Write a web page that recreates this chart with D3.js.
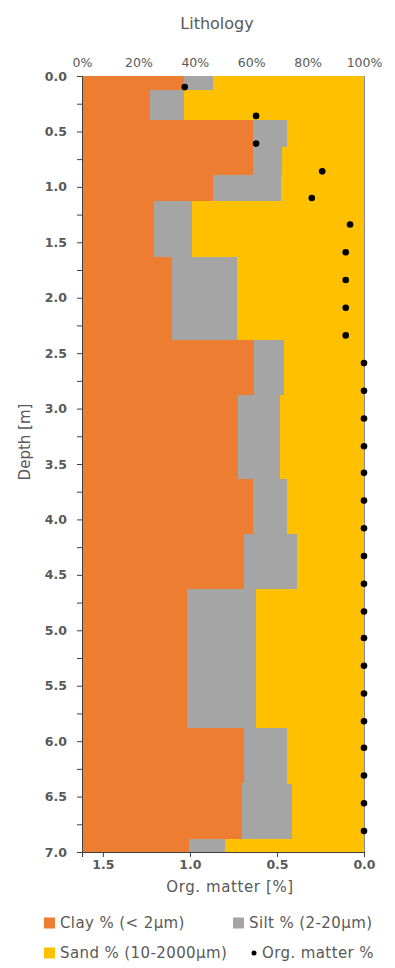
<!DOCTYPE html>
<html>
<head>
<meta charset="utf-8">
<script src="https://cdn.jsdelivr.net/npm/d3@7"></script>
<style>
  body { margin: 0; background: #fff; }
  svg text { font-family: "DejaVu Sans", Verdana, sans-serif; fill: #595959; }
</style>
</head>
<body>
<svg id="chart" width="395" height="968"></svg>
<script>
// layer boundaries (depth, m)
var depthBreaks = [0, 0.13, 0.39, 0.64, 0.89, 1.13, 1.63, 2.38, 2.88, 3.63, 4.13, 4.63, 5.88, 6.38, 6.88, 7.0];
// grain size fractions per layer (%)
var clay = [36.2, 24.1, 60.7, 60.7, 46.6, 25.5, 32.0, 61.0, 55.2, 60.7, 57.3, 37.3, 57.4, 56.6, 37.8];
var silt = [10.4, 12.2, 11.9, 10.3, 24.1, 13.4, 23.1, 10.7, 15.0, 11.9, 18.9, 24.4, 15.2, 17.9, 12.9];
var sand = [53.4, 63.7, 27.4, 29.0, 29.3, 61.1, 44.9, 28.3, 29.8, 27.4, 23.8, 38.3, 27.4, 25.5, 49.3];
// organic matter samples
var omDepth = [0.1, 0.36, 0.61, 0.86, 1.1, 1.34, 1.59, 1.84, 2.09, 2.34, 2.59, 2.84, 3.09, 3.34, 3.58,
               3.83, 4.08, 4.33, 4.58, 4.83, 5.07, 5.32, 5.57, 5.82, 6.06, 6.31, 6.56, 6.81];
var omValue = [1.03, 0.62, 0.62, 0.24, 0.30, 0.08, 0.105, 0.105, 0.105, 0.105, 0, 0, 0, 0, 0,
               0, 0, 0, 0, 0, 0, 0, 0, 0, 0, 0, 0, 0];
var pctTicks = [0, 20, 40, 60, 80, 100];
var omTicks = [1.5, 1.0, 0.5, 0.0];
var depthTicks = [0, 0.5, 1, 1.5, 2, 2.5, 3, 3.5, 4, 4.5, 5, 5.5, 6, 6.5, 7];

var colors = { clay: "#ED7D31", silt: "#A5A5A5", sand: "#FFC000" };

var svg = d3.select("#chart");

var x = d3.scaleLinear().domain([0, 100]).range([82, 364]);
var xOm = d3.scaleLinear().domain([1.62, 0]).range([82, 364]);
var y = d3.scaleLinear().domain([0, 7]).range([76, 852]);

var layers = clay.map(function(c, i) {
  return { top: depthBreaks[i], bottom: depthBreaks[i + 1], clay: c, silt: silt[i], sand: sand[i] };
});

var stack = d3.stack().keys(["clay", "silt", "sand"]);
var series = stack(layers);

var g = svg.append("g");
series.forEach(function(s) {
  g.selectAll(".r-" + s.key)
    .data(s)
    .enter().append("rect")
    .attr("x", function(d) { return x(d[0]); })
    .attr("width", function(d) { return x(d[1]) - x(d[0]); })
    .attr("y", function(d) { return y(d.data.top); })
    .attr("height", function(d) { return y(d.data.bottom) - y(d.data.top) + 0.5; })
    .attr("fill", colors[s.key])
    .attr("shape-rendering", "crispEdges");
});

// right border line
svg.append("line")
  .attr("x1", 364.5).attr("x2", 364.5)
  .attr("y1", y(0)).attr("y2", y(7))
  .attr("stroke", "#8c8c8c").attr("stroke-width", 1);

// org matter points
svg.selectAll(".om")
  .data(omDepth)
  .enter().append("circle")
  .attr("cx", function(d, i) { return xOm(omValue[i]); })
  .attr("cy", function(d) { return y(d); })
  .attr("r", 3.3)
  .attr("fill", "#000");

// left depth axis
var yAxis = d3.axisLeft(y)
  .tickValues(d3.range(0, 7.01, 0.25))
  .tickSize(5)
  .tickFormat(function(d) { return depthTicks.indexOf(d) >= 0 ? d3.format(".1f")(d) : ""; });
var ya = svg.append("g").attr("transform", "translate(82,0)").call(yAxis);
ya.select(".domain").attr("stroke", "#404040");
ya.selectAll(".tick line").attr("stroke", "#404040");
ya.selectAll("text").attr("font-size", 12.5).attr("font-weight", "bold").attr("fill", "#595959").attr("x", -15);

// top percent axis (labels only)
var xTop = d3.axisTop(x).tickValues(pctTicks).tickSize(0).tickFormat(function(d) { return d + "%"; });
var xt = svg.append("g").attr("transform", "translate(0,63)").call(xTop);
xt.select(".domain").remove();
xt.selectAll("text").attr("font-size", 12.5).attr("fill", "#404040").attr("dy", "0.35em").attr("y", 0);

// bottom org matter axis
var xBot = d3.axisBottom(xOm).tickValues(omTicks).tickSize(5).tickFormat(d3.format(".1f"));
var xb = svg.append("g").attr("transform", "translate(0,852)").call(xBot);
xb.select(".domain").attr("stroke", "#404040");
xb.selectAll(".tick line").attr("stroke", "#404040");
xb.selectAll("text").attr("font-size", 12.5).attr("font-weight", "bold").attr("fill", "#595959").attr("y", 8);

// titles
svg.append("text").attr("x", 217).attr("y", 29).attr("text-anchor", "middle")
  .attr("font-size", 16).attr("fill", "#404040").text("Lithology");
svg.append("text").attr("x", 230).attr("y", 892).attr("text-anchor", "middle")
  .attr("font-size", 15).attr("letter-spacing", 0.6).attr("fill", "#404040").text("Org. matter [%]");
svg.append("text")
  .attr("transform", "translate(30,442) rotate(-90)")
  .attr("text-anchor", "middle")
  .attr("font-size", 15).attr("fill", "#404040").text("Depth [m]");

// legend
var legendItems = [
  { label: "Clay % (< 2\u00b5m)", color: colors.clay, type: "rect", x: 44, y: 923 },
  { label: "Silt % (2-20\u00b5m)", color: colors.silt, type: "rect", x: 233, y: 923 },
  { label: "Sand % (10-2000\u00b5m)", color: colors.sand, type: "rect", x: 44, y: 953 },
  { label: "Org. matter %", color: "#000", type: "dot", x: 250, y: 953 }
];
var lg = svg.selectAll(".legend").data(legendItems).enter().append("g")
  .attr("transform", function(d) { return "translate(" + d.x + "," + d.y + ")"; });
lg.filter(function(d) { return d.type === "rect"; }).append("rect")
  .attr("x", 0).attr("y", -5.5).attr("width", 11).attr("height", 11)
  .attr("fill", function(d) { return d.color; });
lg.filter(function(d) { return d.type === "dot"; }).append("circle")
  .attr("cx", 4).attr("cy", 0).attr("r", 2.5).attr("fill", "#000");
lg.append("text")
  .attr("x", function(d) { return d.type === "dot" ? 12 : 16; })
  .attr("dy", "0.35em")
  .attr("font-size", 15).attr("letter-spacing", 0.4).attr("fill", "#404040")
  .text(function(d) { return d.label; });
</script>
</body>
</html>
